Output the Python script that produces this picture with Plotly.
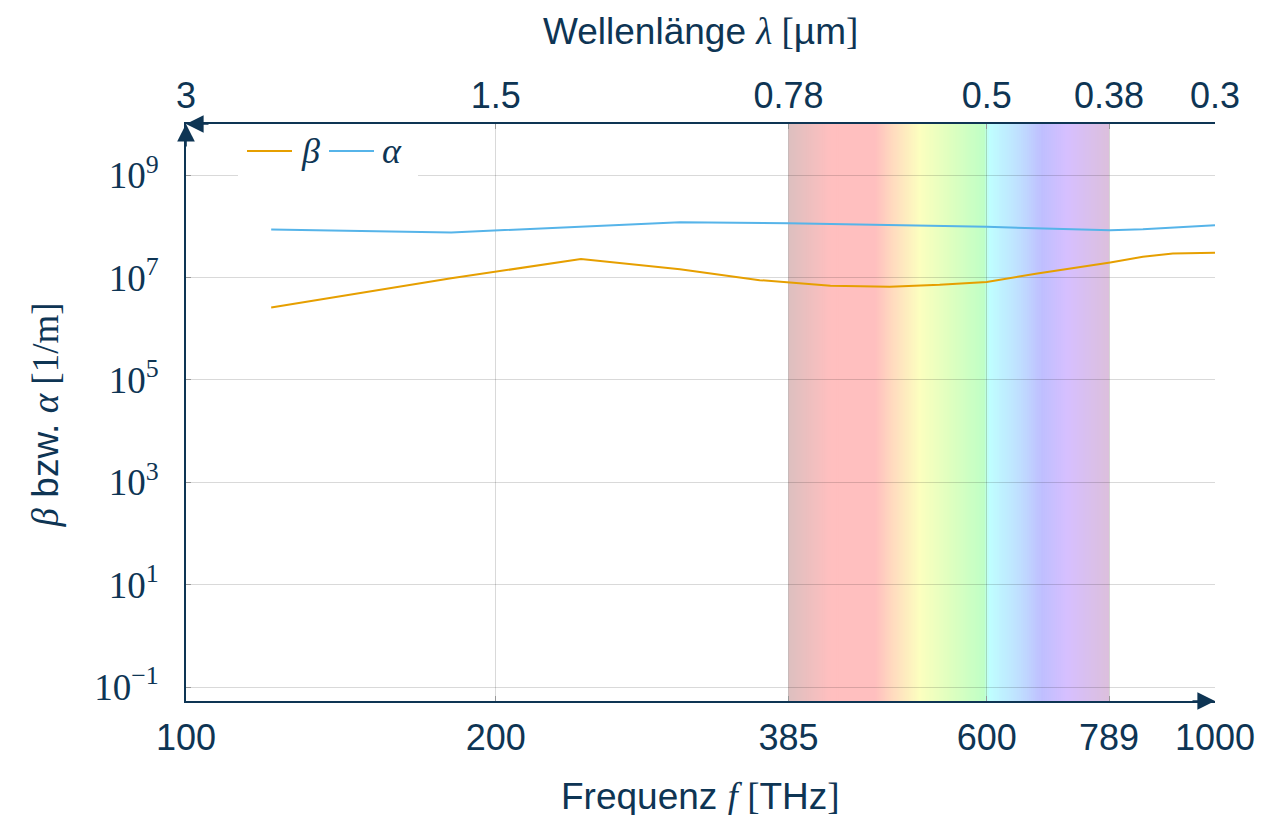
import plotly.graph_objects as go
import numpy as np

# ---------------- data ----------------
freq_beta = [121, 181, 242, 302, 361, 385, 423, 483, 540, 600, 672, 791, 851, 910, 1000]
beta = [2.61e6, 9.7e6, 2.29e7, 1.46e7, 8.9e6, 8.0e6, 6.9e6, 6.6e6, 7.2e6, 8.2e6,
        1.2e7, 1.97e7, 2.54e7, 2.96e7, 3.04e7]
freq_alpha = [121, 181, 302, 385, 600, 791, 851, 1000]
alpha = [8.7e7, 7.6e7, 1.21e8, 1.155e8, 9.8e7, 8.4e7, 8.8e7, 1.055e8]

freq_ticks = [100, 200, 385, 600, 789, 1000]
freq_labels = ["100", "200", "385", "600", "789", "1000"]
wavelength_labels = ["3", "1.5", "0.78", "0.5", "0.38", "0.3"]
y_ticks = [1e-1, 1e1, 1e3, 1e5, 1e7, 1e9]
y_labels = ["10<sup>−1</sup>", "10<sup>1</sup>", "10<sup>3</sup>", "10<sup>5</sup>",
            "10<sup>7</sup>", "10<sup>9</sup>"]

visible_band = [385, 789]
spectrum_stops = [(0.00, "#dcbfbf"), (0.13, "#ffbfbf"), (0.27, "#ffbfbf"), (0.32, "#ffd8bf"),
                  (0.41, "#fcffbf"), (0.50, "#e0ffbf"), (0.61, "#bfffc6"), (0.625, "#bfffff"),
                  (0.72, "#bfdfff"), (0.79, "#bfbfff"), (0.87, "#d6bfff"), (1.00, "#dcbfdc")]

NAVY = "#0e3554"
ORANGE = "#E69F00"
BLUE = "#56B4E9"
SERIF = "Liberation Serif"
SANS = "Liberation Sans"

# layout geometry (page has an 8px body margin)
L, T, PW, PH = 178, 116, 1029, 577
W, H = 1275, 815


def hex2rgb(h):
    h = h.lstrip("#")
    return np.array([int(h[i:i + 2], 16) for i in (0, 2, 4)], dtype=float)


def spectrum_color(t):
    for (t0, c0), (t1, c1) in zip(spectrum_stops[:-1], spectrum_stops[1:]):
        if t0 <= t <= t1:
            f = 0 if t1 == t0 else (t - t0) / (t1 - t0)
            c = hex2rgb(c0) * (1 - f) + hex2rgb(c1) * f
            return "rgb(%d,%d,%d)" % tuple(np.round(c))
    return spectrum_stops[-1][1]


def px_x(p):  # offset in px from plot left -> paper x
    return p / PW


def px_y(p):  # offset in px from plot top -> paper y
    return 1 - p / PH


fig = go.Figure()

# spectrum band as thin strips (below gridlines)
lo, hi = np.log10(visible_band[0]), np.log10(visible_band[1])
n = 160
edges = np.linspace(lo, hi, n + 1)
shapes = []
for i in range(n):
    t = (i + 0.5) / n
    x1 = edges[i + 1] + (0.0008 if i < n - 1 else 0)
    shapes.append(dict(type="rect", xref="x", yref="paper", x0=10 ** edges[i], x1=10 ** x1,
                       y0=0, y1=1, fillcolor=spectrum_color(t), line=dict(width=0),
                       layer="below"))

fig.add_trace(go.Scatter(x=freq_beta, y=beta, mode="lines", name="β",
                         line=dict(color=ORANGE, width=2), hoverinfo="skip", showlegend=False))
fig.add_trace(go.Scatter(x=freq_alpha, y=alpha, mode="lines", name="α",
                         line=dict(color=BLUE, width=2), hoverinfo="skip", showlegend=False))
# helper trace so the top (wavelength) axis is drawn
fig.add_trace(go.Scatter(x=freq_alpha, y=alpha, xaxis="x2", mode="lines", opacity=0,
                         showlegend=False, hoverinfo="skip"))

# legend box (white, no border) with line samples
shapes.append(dict(type="rect", xref="paper", yref="paper", x0=px_x(52), x1=px_x(232),
                   y0=px_y(66), y1=px_y(2), fillcolor="white", line=dict(width=0), layer="above"))
shapes.append(dict(type="line", xref="paper", yref="paper", x0=px_x(61), x1=px_x(106),
                   y0=px_y(27), y1=px_y(27), line=dict(color=ORANGE, width=2), layer="above"))
shapes.append(dict(type="line", xref="paper", yref="paper", x0=px_x(143), x1=px_x(188),
                   y0=px_y(27), y1=px_y(27), line=dict(color=BLUE, width=2), layer="above"))

grid = "rgba(0,0,0,0.15)"
fig.update_layout(
    width=W, height=H,
    margin=dict(l=L, r=W - L - PW, t=T, b=H - T - PH, autoexpand=False),
    paper_bgcolor="white", plot_bgcolor="white",
    showlegend=False,
    shapes=shapes,
    xaxis=dict(type="log", range=[2, 3], tickvals=freq_ticks, ticktext=freq_labels,
               showgrid=True, gridcolor=grid, gridwidth=1, zeroline=False,
               showline=True, linecolor=NAVY, linewidth=1.6,
               ticks="inside", ticklen=5, tickcolor="#999999",
               tickfont=dict(family=SANS, size=36, color=NAVY), ticklabelstandoff=4),
    xaxis2=dict(type="log", range=[2, 3], overlaying="x", side="top", matches="x",
                tickvals=freq_ticks, ticktext=wavelength_labels, showgrid=False,
                zeroline=False, showline=True, linecolor=NAVY, linewidth=1.6,
                ticks="inside", ticklen=5, tickcolor="#999999",
                tickfont=dict(family=SANS, size=36, color=NAVY), ticklabelstandoff=0),
    yaxis=dict(type="log", range=[-1.273, 10], tickvals=y_ticks, ticktext=y_labels,
               showgrid=True, gridcolor=grid, gridwidth=1, zeroline=False,
               showline=True, linecolor=NAVY, linewidth=1.6,
               ticks="inside", ticklen=5, tickcolor="#999999",
               tickfont=dict(family=SERIF, size=37, color=NAVY), ticklabelstandoff=18),
)

ser = 'font-family:%s' % SERIF
annotations = [
    dict(xref="paper", yref="paper", x=0.5, y=0, xanchor="center", yanchor="middle", yshift=-95,
         showarrow=False,
         text='Frequenz <span style="%s"><i>f</i> [</span>THz<span style="%s">]</span>' % (ser, ser),
         font=dict(family=SANS, size=37, color=NAVY)),
    dict(xref="paper", yref="paper", x=0.5, y=1, xanchor="center", yanchor="middle", yshift=93,
         showarrow=False,
         text='Wellenlänge <span style="%s"><i>λ</i> [</span>µm<span style="%s">]</span>' % (ser, ser),
         font=dict(family=SANS, size=37, color=NAVY)),
    dict(xref="paper", yref="paper", x=0, y=0.495, xanchor="center", yanchor="middle", xshift=-141,
         showarrow=False, textangle=-90,
         text='<span style="%s"><i>β</i></span> bzw. <span style="%s"><i>α</i> [1/m]</span>' % (ser, ser),
         font=dict(family=SANS, size=37, color=NAVY)),
    # legend labels
    dict(xref="paper", yref="paper", x=px_x(124), y=px_y(27), xanchor="center", yanchor="middle",
         showarrow=False, text="<i>β</i>", font=dict(family=SERIF, size=36, color=NAVY)),
    dict(xref="paper", yref="paper", x=px_x(206), y=px_y(27), xanchor="center", yanchor="middle",
         showarrow=False, text="<i>α</i>", font=dict(family=SERIF, size=36, color=NAVY)),
    # axis arrows
    dict(xref="x", yref="paper", x=3, y=0, ax=-24, ay=0, text="", showarrow=True,
         arrowhead=2, arrowsize=2.2, arrowwidth=1.6, arrowcolor=NAVY, standoff=0),
    dict(xref="x", yref="paper", x=2, y=1, ax=0, ay=24, text="", showarrow=True,
         arrowhead=2, arrowsize=2.2, arrowwidth=1.6, arrowcolor=NAVY, standoff=0),
    dict(xref="x", yref="paper", x=2, y=1, ax=24, ay=0, text="", showarrow=True,
         arrowhead=2, arrowsize=2.2, arrowwidth=1.6, arrowcolor=NAVY, standoff=0),
]
fig.update_layout(annotations=annotations)

fig.write_html("out.html")
